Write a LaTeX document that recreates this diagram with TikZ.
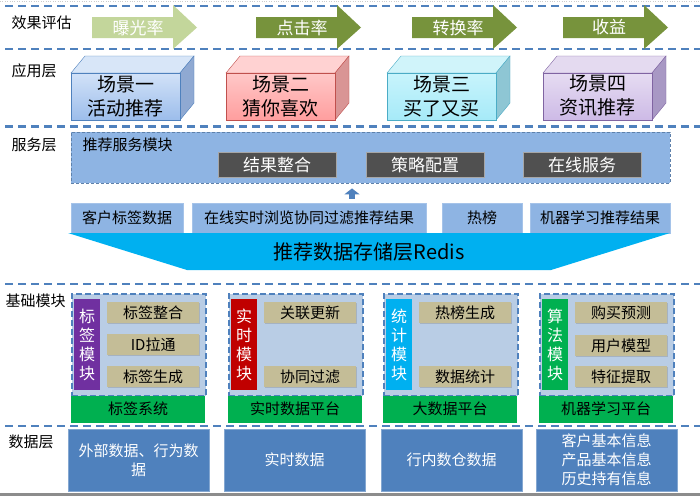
\documentclass[tikz,border=0pt]{standalone}
\usepackage{fontspec}
\setmainfont{Noto Sans CJK SC}
\usetikzlibrary{shapes,arrows.meta,positioning,calc,shadows}
\usepackage{xcolor}

\definecolor{dashblue}{HTML}{4F81BD}
\definecolor{arrowlight}{HTML}{C3D69B}
\definecolor{arrowdark}{HTML}{77933C}
\definecolor{svcblue}{HTML}{8EB4E3}
\definecolor{darkbox}{HTML}{505050}
\definecolor{redisblue}{HTML}{00B0F0}
\definecolor{modfill}{HTML}{B9CDE5}
\definecolor{tan}{HTML}{C4BD97}
\definecolor{platgreen}{HTML}{00B050}
\definecolor{vpurple}{HTML}{7030A0}
\definecolor{vred}{HTML}{C00000}
\definecolor{vcyan}{HTML}{00B0F0}
\definecolor{vgreen}{HTML}{00B050}
\definecolor{datablue}{HTML}{4F81BD}
% scene box colours: light, dark, top, side, edge
\definecolor{sa-lt}{HTML}{D2E2F8}\definecolor{sa-dk}{HTML}{9CBDEB}\definecolor{sa-tp}{HTML}{D8E6F8}\definecolor{sa-sd}{HTML}{8FA9D2}\definecolor{sa-ed}{HTML}{4F81BD}
\definecolor{sb-lt}{HTML}{FFC8C8}\definecolor{sb-dk}{HTML}{FF9E9E}\definecolor{sb-tp}{HTML}{FFD2D2}\definecolor{sb-sd}{HTML}{D99595}\definecolor{sb-ed}{HTML}{C0504D}
\definecolor{sc-lt}{HTML}{C8F4FC}\definecolor{sc-dk}{HTML}{A6EAF8}\definecolor{sc-tp}{HTML}{D0F4FA}\definecolor{sc-sd}{HTML}{8EC6D4}\definecolor{sc-ed}{HTML}{4BACC6}
\definecolor{sd-lt}{HTML}{E6DCF2}\definecolor{sd-dk}{HTML}{CDBAE6}\definecolor{sd-tp}{HTML}{E4DAF0}\definecolor{sd-sd}{HTML}{A898C4}\definecolor{sd-ed}{HTML}{8064A2}

\tikzset{
  layerline/.style={dashblue, line width=2.2pt, dash pattern=on 8pt off 5pt},
  layerlabel/.style={anchor=west, font=\fontsize{15}{18}\selectfont},
  evaltext/.style={white, font=\fontsize{17}{20}\selectfont},
  scenetext/.style={align=center, font=\fontsize{19}{24}\selectfont},
  svcbox/.style={fill=darkbox, draw=gray!70, text=white, inner sep=0pt, anchor=north west,
    minimum width=118pt, minimum height=25pt, font=\fontsize{17}{20}\selectfont},
  rowbox/.style={fill=svcblue, draw=svcblue!80!white, inner sep=0pt, anchor=north west,
    minimum height=30pt, font=\fontsize{15}{18}\selectfont,
    drop shadow={shadow xshift=1pt, shadow yshift=-1pt, opacity=.35}},
  modframe/.style={fill=modfill, draw=dashblue, line width=1.5pt, dash pattern=on 6pt off 3pt,
    inner sep=0pt, minimum width=134pt, minimum height=102pt},
  vertbox/.style={text=white, inner sep=0pt, minimum width=26pt, minimum height=91pt,
    align=center, font=\fontsize{16}{19}\selectfont},
  tanbox/.style={fill=tan, inner sep=0pt, anchor=north west, minimum width=92pt, minimum height=21pt,
    font=\fontsize{15}{18}\selectfont,
    drop shadow={shadow xshift=1.2pt, shadow yshift=-1.2pt, opacity=.35}},
  platbar/.style={fill=platgreen, inner sep=0pt, minimum width=134pt, minimum height=27pt,
    font=\fontsize{15}{18}\selectfont},
  databox/.style={fill=datablue, draw=datablue!70!white, text=white, inner sep=0pt, anchor=north west,
    minimum width=141pt, minimum height=62pt, align=center, font=\fontsize{15}{19}\selectfont},
}

\begin{document}
\begin{tikzpicture}[x=1pt, y=-1pt]

\useasboundingbox (0,0) rectangle (700,496);
\fill[white] (0,0) rectangle (700,496);

% layer separators
\draw[gray!40, dotted] (0,1.5) -- (700,1.5);
\foreach \ly in {6, 49, 126.5, 284, 426} {
    \draw[layerline] (5,\ly) -- (700,\ly);
}
\fill[gray!90] (0,492.5) rectangle (700,496);

% layer labels
\node[layerlabel] (l1) at (8,23) {效果评估};
\node[layerlabel] (l2) at (8,71) {应用层};
\node[layerlabel] (l3) at (8,145) {服务层};
\node[layerlabel] (l4) at (2,301) {基础模块};
\node[layerlabel] (l5) at (5,442) {数据层};

% evaluation arrows
\foreach \xa/\col/\txt/\nm in {92/arrowlight/曝光率/e1, 256/arrowdark/点击率/e2, 412/arrowdark/转换率/e3, 563/arrowdark/收益/e4} {
    \fill[\col] (\xa,17) -- (\xa+81,17) -- (\xa+81,5) -- (\xa+105,27.5) -- (\xa+81,49) -- (\xa+81,38) -- (\xa,38) -- cycle;
    \node[evaltext] (\nm) at (\xa+46,27.5) {\txt};
}

% application scenes (boxes)
\foreach \x/\nm/\la/\lb in {71/sa/场景一/活动推荐, 226/sb/场景二/猜你喜欢, 387/sc/场景三/买了又买, 543/sd/场景四/资讯推荐} {
    \fill[\nm-tp, draw=\nm-ed] (\x,73) -- (\x+14,56) -- (\x+123,56) -- (\x+109,73) -- cycle;
    \fill[\nm-sd, draw=\nm-ed] (\x+109,73) -- (\x+123,56) -- (\x+123,103) -- (\x+109,120) -- cycle;
    \shade[top color=\nm-lt, bottom color=\nm-dk, draw=\nm-ed] (\x,73) rectangle (\x+109,120);
    \node[scenetext] (\nm) at (\x+54.5,96) {\la\\\lb};
}

% service module
\node[fill=svcblue, draw=dashblue!70!gray, densely dashed, inner sep=0pt, anchor=north west,
      minimum width=599pt, minimum height=51pt] (svc) at (71,132) {};
\node[anchor=west, font=\fontsize{15}{18}\selectfont] (svctitle) at (79,145) {推荐服务模块};
\node[svcbox] (s1) at (218,152) {结果整合};
\node[svcbox] (s2) at (366,152) {策略配置};
\node[svcbox] (s3) at (523,152) {在线服务};

% result data row
\node[rowbox, minimum width=112pt] (r1) at (71,203) {客户标签数据};
\node[rowbox, minimum width=234pt] (r2) at (192,203) {在线实时浏览协同过滤推荐结果};
\node[rowbox, minimum width=80pt] (r3) at (442,203) {热榜};
\node[rowbox, minimum width=140pt] (r4) at (530,203) {机器学习推荐结果};

\coordinate (upfrom) at (352,198.5);
\draw[dashblue, line width=6pt, -{Triangle[width=15pt,length=6pt]}, shorten >=5pt] (upfrom) -- (svc.south -| upfrom);

% redis storage
\fill[redisblue] (68,233) -- (670,233) -- (551,270) -- (187,270) -- cycle;
\node[font=\fontsize{20}{24}\selectfont] (redis) at (369,252) {推荐数据存储层Redis};

% base modules
\foreach \mx/\vcol/\vtxt/\plat/\nm in {71/vpurple/{标\\签\\模\\块}/标签系统/m1, 228/vred/{实\\时\\模\\块}/实时数据平台/m2,
    383/vcyan/{统\\计\\模\\块}/大数据平台/m3, 539/vgreen/{算\\法\\模\\块}/机器学习平台/m4} {
    \node[modframe, anchor=north west] (\nm) at (\mx,293) {};
    \node[vertbox, fill=\vcol, anchor=north west] (\nm-v) at (\mx+3,299) {\vtxt};
    \node[platbar, anchor=north west] (\nm-p) at (\mx,395.5) {\plat};
}

\foreach \tx/\ty/\txt/\nm in {107/302/标签整合/t11, 107/334/ID拉通/t12, 107/366/标签生成/t13,
    264/302/关联更新/t21, 264/366/协同过滤/t22,
    419/302/热榜生成/t31, 419/366/数据统计/t32,
    575/302/购买预测/t41, 575/335/用户模型/t42, 575/366/特征提取/t43} {
    \node[tanbox] (\nm) at (\tx,\ty) {\txt};
}

% data layer
\foreach \dx/\txt/\nm in {68/{外部数据、行为数\\据}/d1, 224/实时数据/d2, 381/行内数仓数据/d3,
    536/{客户基本信息\\产品基本信息\\历史持有信息}/d4} {
    \node[databox] (\nm) at (\dx,429) {\txt};
}

\end{tikzpicture}
\end{document}
